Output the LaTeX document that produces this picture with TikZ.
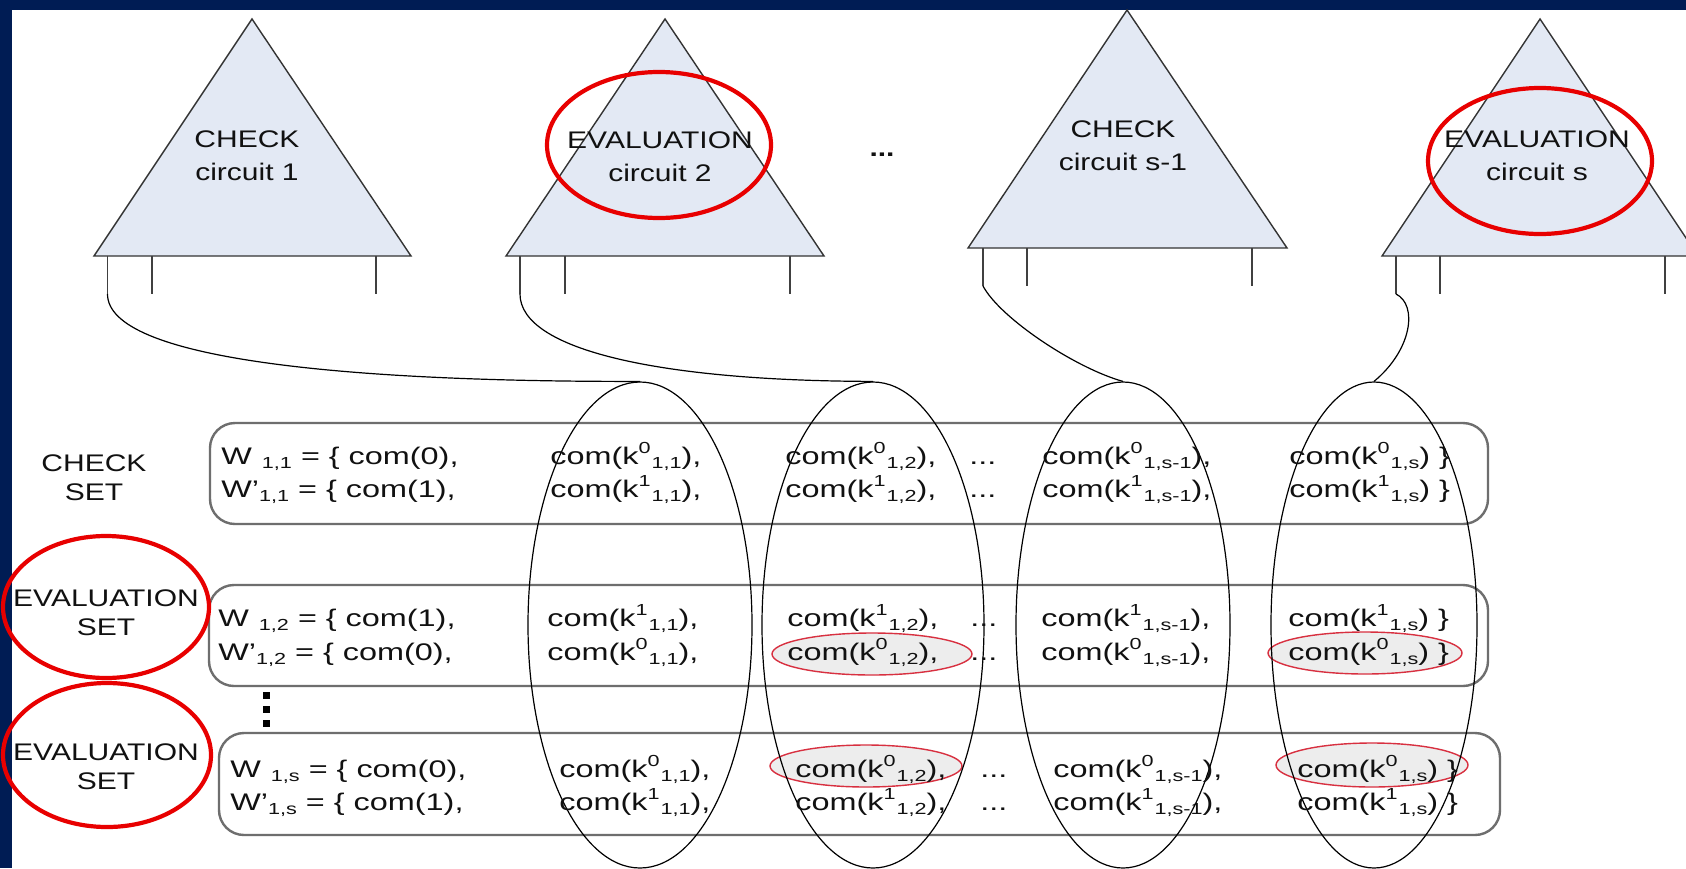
\documentclass[tikz,border=0pt]{standalone}
\usepackage{fontspec}
\setmainfont{Liberation Sans}[FakeStretch=1.25]
\newfontfamily\rowfont{Liberation Sans}[FakeStretch=1.35]
\usetikzlibrary{shapes.geometric}
\definecolor{navy}{HTML}{001C54}
\definecolor{trifill}{HTML}{E3E9F4}
\definecolor{redc}{HTML}{E80000}
\definecolor{boxgray}{HTML}{6E6E6E}
\definecolor{hlfill}{HTML}{EDEDED}
\definecolor{hlred}{HTML}{D83040}
\definecolor{txt}{HTML}{111111}
\newcommand\Ksup[1]{\raisebox{0.42em}{\fontsize{8}{8}\selectfont #1}}
\newcommand\Ksub[1]{\raisebox{-0.18em}{\fontsize{8}{8}\selectfont #1}}
\newcommand\ck[2]{com(k\Ksup{#1}\hspace{0.5pt}\Ksub{#2})}
\tikzset{
  tri/.style={draw=black!80, fill=trifill, line width=0.7pt, line join=miter},
  leg/.style={draw=black!75, line width=0.75pt},
  wire/.style={draw=black, line width=0.6pt},
  setbox/.style={draw=boxgray, line width=1.2pt, rounded corners=12.5pt},
  col/.style={draw=black, line width=0.6pt, ellipse, inner sep=0pt, minimum height=243pt},
  hl/.style={draw=hlred, fill=hlfill, line width=0.7pt, ellipse, inner sep=0pt},
  redring/.style={draw=redc, line width=2.1pt, ellipse, inner sep=0pt},
  rowtxt/.style={anchor=base west, inner sep=0pt, font=\rowfont\fontsize{12}{14}\selectfont, text=txt},
  trilabel/.style={align=center, font=\fontsize{12}{16.5}\selectfont, text=txt, inner sep=0pt},
  setlabel/.style={align=center, font=\fontsize{12}{14.5}\selectfont, text=txt, inner sep=0pt},
}
\begin{document}
\begin{tikzpicture}[x=0.5pt,y=-0.5pt]
\useasboundingbox (0,0) rectangle (1686,868);
\clip (0,0) rectangle (1686,868);
\fill[white] (0,0) rectangle (1686,868);
\fill[navy] (0,0) rectangle (1686,10);
\fill[navy] (0,0) rectangle (12,868);

% triangles
\path[tri] (94,256) -- (252,19) -- (411,256) -- cycle;
\path[tri] (506,256) -- (665,19) -- (824,256) -- cycle;
\path[tri] (968,248) -- (1127,10) -- (1287,248) -- cycle;
\path[tri] (1382,256) -- (1540,19) -- (1698,256) -- cycle;

\node[trilabel] (tl1) at (247,156) {CHECK\\circuit 1};
\node[trilabel] (tl2) at (660,157) {EVALUATION\\circuit 2};
\node[trilabel] (tl3) at (1123,146) {CHECK\\circuit s-1};
\node[trilabel] (tl4) at (1537,156) {EVALUATION\\circuit s};
\node[inner sep=0pt, font=\fontsize{12}{14}\selectfont\bfseries, text=txt] (topdots) at (882,155) {...};

% legs
\coordinate (a1) at (107.5,294);
\coordinate (a2) at (520,294);
\coordinate (a3) at (983,286);
\coordinate (a4) at (1396,294);
\draw[leg] (107.5,256) -- (a1);
\draw[leg] (152,256) -- (152,294);
\draw[leg] (376,256) -- (376,294);
\draw[leg] (520,256) -- (a2);
\draw[leg] (565,256) -- (565,294);
\draw[leg] (790,256) -- (790,294);
\draw[leg] (983,248) -- (a3);
\draw[leg] (1027,248) -- (1027,286);
\draw[leg] (1252,248) -- (1252,286);
\draw[leg] (1396,256) -- (a4);
\draw[leg] (1440,256) -- (1440,294);
\draw[leg] (1665,256) -- (1665,294);

% set boxes
\draw[setbox] (210,423) rectangle (1488,524);
\draw[setbox] (209,585) rectangle (1488,686);
\draw[setbox] (219,733) rectangle (1500,835);

% highlighted commitments
\node[hl, minimum width=100pt, minimum height=21pt] (h1) at (872,654) {};
\node[hl, minimum width=97pt, minimum height=21pt] (h2) at (1365,653) {};
\node[hl, minimum width=96pt, minimum height=21pt] (h3) at (866,766) {};
\node[hl, minimum width=96pt, minimum height=22pt] (h4) at (1372,765) {};

% column ellipses
\node[col, minimum width=112pt] (e1) at (640,625) {};
\node[col, minimum width=111pt] (e2) at (873,625) {};
\node[col, minimum width=107pt] (e3) at (1123,625) {};
\node[col, minimum width=103pt] (e4) at (1374,625) {};

% wires
\draw[wire] (a1) .. controls (107.5,360) and (350,382) .. (e1.north);
\draw[wire] (a2) .. controls (520,350) and (660,381) .. (e2.north);
\draw[wire] (a3) .. controls (1000,318) and (1075,368) .. (e3.north);
\draw[wire] (a4) .. controls (1418,305) and (1412,350) .. (e4.north);

% row texts: box 1
\node[rowtxt] (r1c0) at (221,464) {W\hspace{5pt}\Ksub{1,1} = \{ com(0),};
\node[rowtxt] (r2c0) at (221,497) {W’\Ksub{1,1} = \{ com(1),};
\node[rowtxt] (r1c1) at (550,464) {\ck{0}{1,1},};
\node[rowtxt] (r2c1) at (550,497) {\ck{1}{1,1},};
\node[rowtxt] (r1c2) at (785,464) {\ck{0}{1,2},};
\node[rowtxt] (r2c2) at (785,497) {\ck{1}{1,2},};
\node[rowtxt] (r1d) at (969,464) {...};
\node[rowtxt] (r2d) at (969,497) {...};
\node[rowtxt] (r1c3) at (1042,464) {\ck{0}{1,s-1},};
\node[rowtxt] (r2c3) at (1042,497) {\ck{1}{1,s-1},};
\node[rowtxt] (r1c4) at (1289,464) {\ck{0}{1,s} \}};
\node[rowtxt] (r2c4) at (1289,497) {\ck{1}{1,s} \}};
% box 2
\node[rowtxt] (r3c0) at (218,626) {W\hspace{5pt}\Ksub{1,2} = \{ com(1),};
\node[rowtxt] (r4c0) at (218,660) {W’\Ksub{1,2} = \{ com(0),};
\node[rowtxt] (r3c1) at (547,626) {\ck{1}{1,1},};
\node[rowtxt] (r4c1) at (547,660) {\ck{0}{1,1},};
\node[rowtxt] (r3c2) at (787,626) {\ck{1}{1,2},};
\node[rowtxt] (r4c2) at (787,660) {\ck{0}{1,2},};
\node[rowtxt] (r3d) at (970,626) {...};
\node[rowtxt] (r4d) at (970,660) {...};
\node[rowtxt] (r3c3) at (1041,626) {\ck{1}{1,s-1},};
\node[rowtxt] (r4c3) at (1041,660) {\ck{0}{1,s-1},};
\node[rowtxt] (r3c4) at (1288,626) {\ck{1}{1,s} \}};
\node[rowtxt] (r4c4) at (1288,660) {\ck{0}{1,s} \}};
% box 3
\node[rowtxt] (r5c0) at (230,777) {W\hspace{5pt}\Ksub{1,s} = \{ com(0),};
\node[rowtxt] (r6c0) at (230,810) {W’\Ksub{1,s} = \{ com(1),};
\node[rowtxt] (r5c1) at (559,777) {\ck{0}{1,1},};
\node[rowtxt] (r6c1) at (559,810) {\ck{1}{1,1},};
\node[rowtxt] (r5c2) at (795,777) {\ck{0}{1,2},};
\node[rowtxt] (r6c2) at (795,810) {\ck{1}{1,2},};
\node[rowtxt] (r5d) at (980,777) {...};
\node[rowtxt] (r6d) at (980,810) {...};
\node[rowtxt] (r5c3) at (1053,777) {\ck{0}{1,s-1},};
\node[rowtxt] (r6c3) at (1053,810) {\ck{1}{1,s-1},};
\node[rowtxt] (r5c4) at (1297,777) {\ck{0}{1,s} \}};
\node[rowtxt] (r6c4) at (1297,810) {\ck{1}{1,s} \}};

% vertical dots
\fill[black] (263,692) rectangle (270,699);
\fill[black] (263,706) rectangle (270,713);
\fill[black] (263,720) rectangle (270,727);

% set labels
\node[setlabel] (sl1) at (94,478) {CHECK\\SET};
\node[setlabel] (sl2) at (106,613) {EVALUATION\\SET};
\node[setlabel] (sl3) at (106,767) {EVALUATION\\SET};

% red rings
\node[redring, minimum width=103pt, minimum height=71pt] (rl1) at (106,607) {};
\node[redring, minimum width=104pt, minimum height=72pt] (rl2) at (107,755) {};
\node[redring, minimum width=112pt, minimum height=73pt] (rt2) at (659,145) {};
\node[redring, minimum width=112pt, minimum height=73pt] (rt4) at (1540,161) {};
\end{tikzpicture}
\end{document}
